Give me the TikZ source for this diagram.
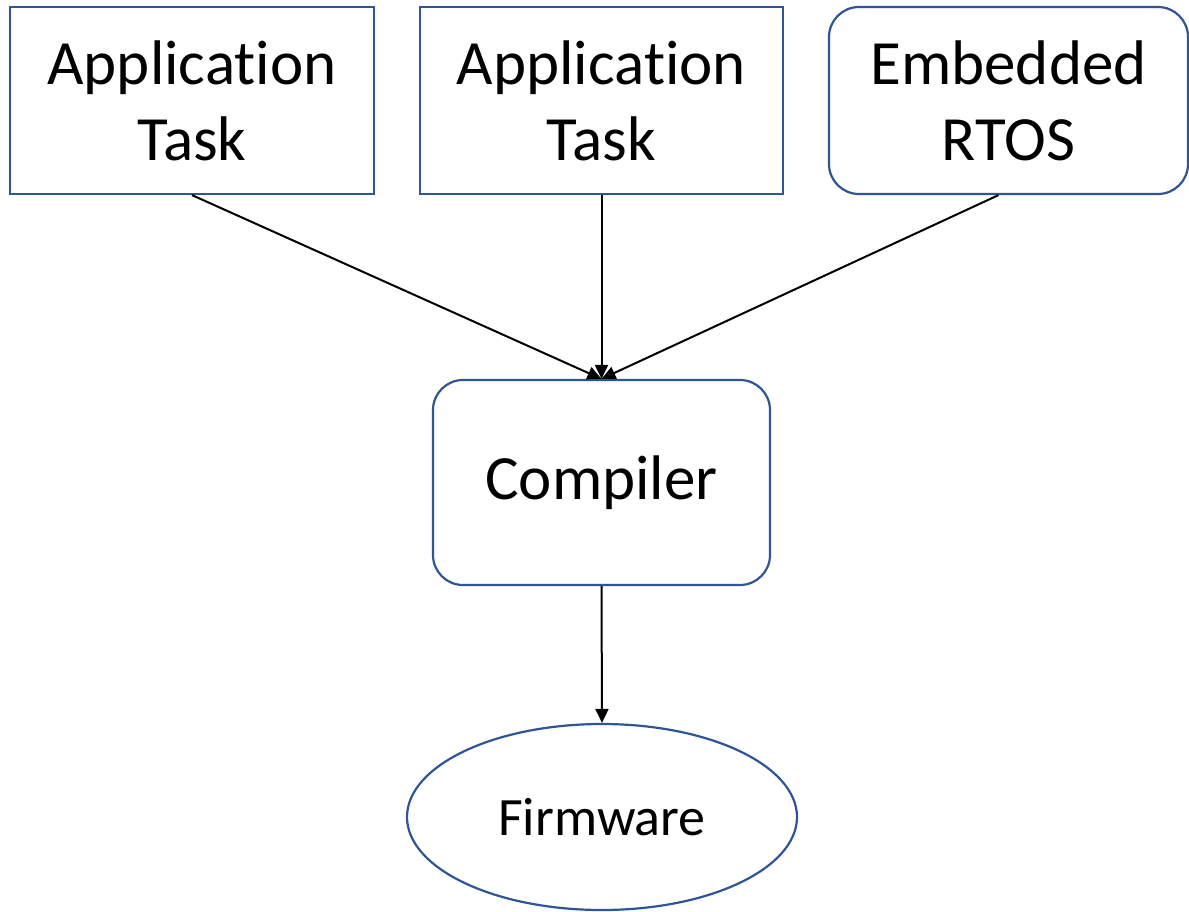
\documentclass[tikz,border=0pt]{standalone}
\usepackage{fontspec}
\setmainfont{Carlito}[Ligatures={NoCommon}]
\usetikzlibrary{arrows.meta,shapes.geometric}
\definecolor{edgeblue}{HTML}{2F5597}
\begin{document}
\begin{tikzpicture}[x=1pt,y=-1pt,
  box/.style={draw=edgeblue,line width=2.2pt,fill=white,inner sep=0pt,align=center,
    font=\fontsize{63}{76}\selectfont},
  rbox/.style={box,rounded corners=30pt},
  oval/.style={draw=edgeblue,line width=2.2pt,ellipse,inner sep=0pt,
    font=\fontsize{54}{65}\selectfont},
  conn/.style={line width=2pt,-{Triangle[length=14pt,width=13pt]}}]
\path[use as bounding box] (0,0) rectangle (1189,911);
\node[box,minimum width=364pt,minimum height=187pt] (a1) at (192,100.5) {Application\\Task};
\node[box,minimum width=363pt,minimum height=187pt] (a2) at (601.5,100.5) {Application\\Task};
\node[rbox,minimum width=359pt,minimum height=187pt] (rt) at (1008.5,100.5) {Embedded\\RTOS};
\node[rbox,minimum width=337pt,minimum height=205pt] (cc) at (601.5,482.5) {\raisebox{-4pt}{Compiler}};
\node[oval,minimum width=390pt,minimum height=186pt] (fw) at (602,817) {Firmware};
\draw[conn] (a1.south) -- (cc.north);
\draw[conn] (a2.south) -- (cc.north);
\draw[conn] ([xshift=-10pt]rt.south) -- (cc.north);
\draw[conn] (cc.south) -- (fw.north);
\end{tikzpicture}
\end{document}
